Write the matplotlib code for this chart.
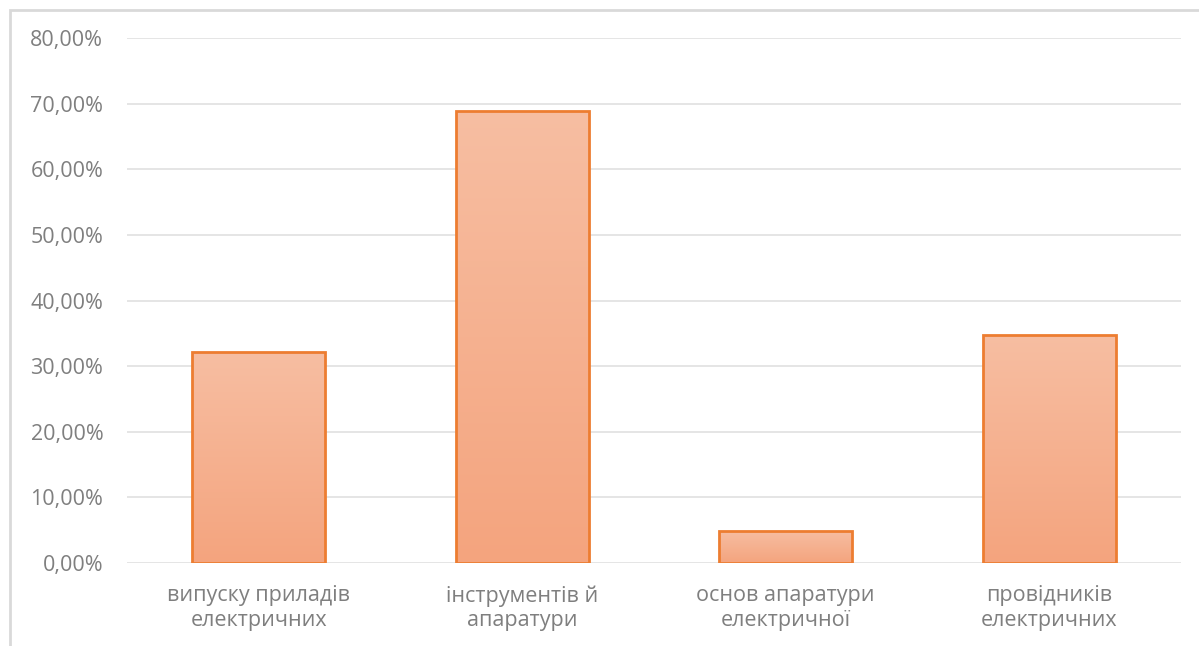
import numpy as np
import matplotlib.pyplot as plt
from matplotlib.patches import Rectangle
from matplotlib.ticker import FuncFormatter
from matplotlib.colors import LinearSegmentedColormap

# Data
categories = ["випуску приладів\nелектричних", "інструментів й\nапаратури",
              "основ апаратури\nелектричної", "провідників\nелектричних"]
values = [0.322, 0.689, 0.049, 0.348]

plt.rcParams['font.family'] = ['Open Sans', 'DejaVu Sans']

fig = plt.figure(figsize=(11.99, 6.46), dpi=100)
ax = fig.add_axes([0.1059, 0.1285, 0.8791, 0.8125])

x = np.arange(len(categories))
bars = ax.bar(x, values, width=0.505, color='none', edgecolor='#ED7D31',
              linewidth=2, zorder=3)

# gradient fill for each bar, lighter at top
grad = np.linspace(0, 1, 256).reshape(-1, 1)
cmap = LinearSegmentedColormap.from_list('g', ['#F4A47E', '#F7BEA2'])
for b in bars:
    bx, by = b.get_x(), b.get_y()
    w, h = b.get_width(), b.get_height()
    im = ax.imshow(grad, extent=[bx, bx + w, by, by + h], origin='lower',
                   cmap=cmap, aspect='auto', zorder=2)
    im.set_clip_path(b)

ax.set_xlim(-0.5, 3.5)
ax.set_ylim(0, 0.8)
ax.set_yticks(np.arange(0, 0.81, 0.1))
ax.yaxis.set_major_formatter(FuncFormatter(lambda v, p: f"{v*100:.2f}%".replace('.', ',')))
ax.set_xticks(x)
ax.set_xticklabels(categories, linespacing=1.22)

ax.grid(axis='y', color='#E3E3E3', linewidth=1.3, zorder=0)
for s in ax.spines.values():
    s.set_visible(False)
ax.tick_params(axis='both', length=0, labelsize=15.5, colors='#7F7F7F')
ax.tick_params(axis='x', pad=16)
ax.tick_params(axis='y', pad=17)

# outer chart border (only top/left visible)
fig.patches.append(Rectangle((10 / 1199, -0.1), 1.2, 1.1 - 10 / 646,
                             transform=fig.transFigure, fill=False,
                             edgecolor='#D9D9D9', linewidth=2))

fig.savefig('out.png', dpi=100)
